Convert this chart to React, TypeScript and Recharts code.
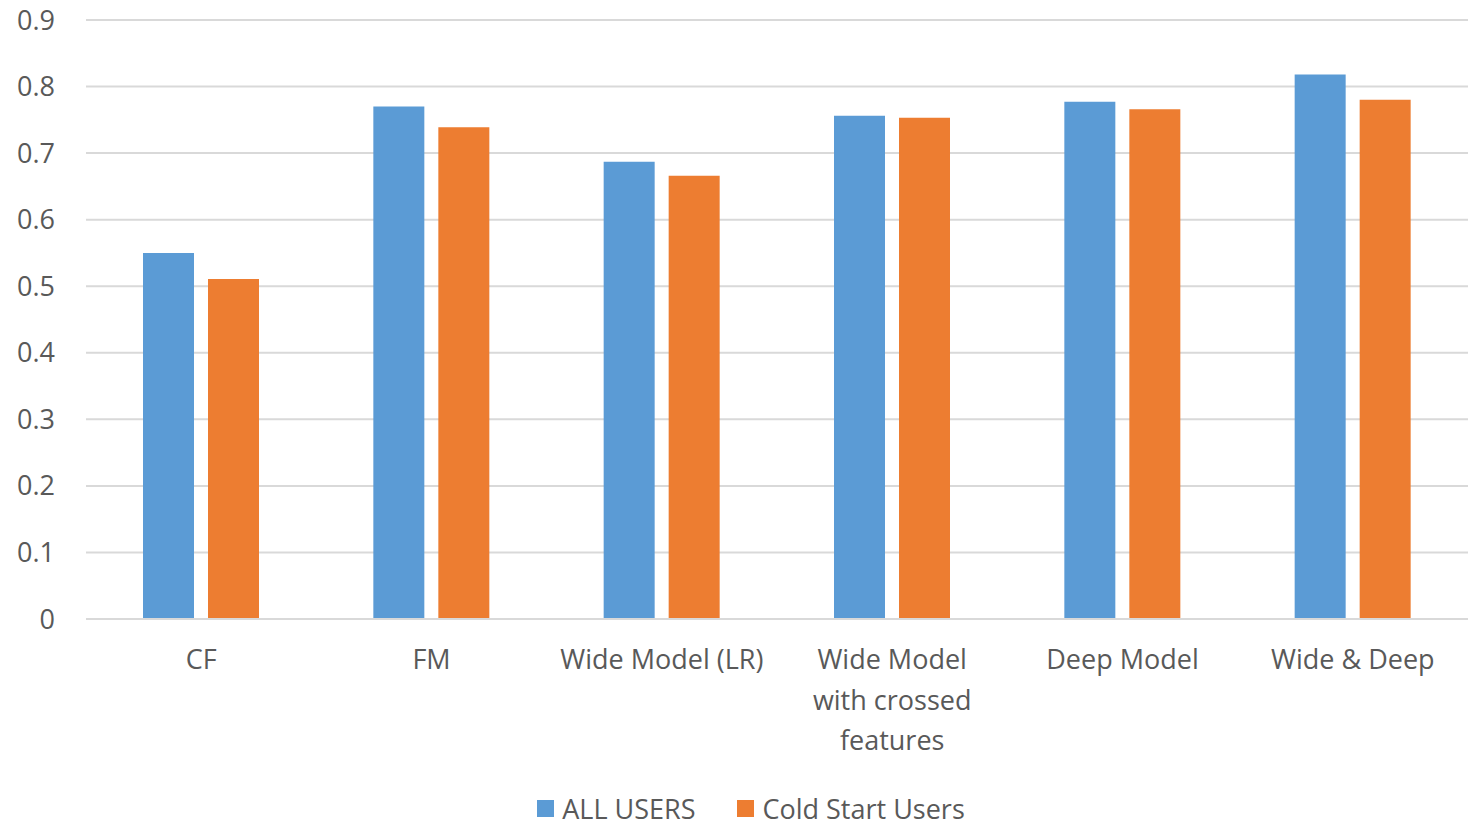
import React from "react";
import { BarChart, Bar, XAxis, YAxis, CartesianGrid, Legend } from "recharts";

// Model names on the x axis ("\n" marks a line break in the tick label)
const models = [
  "CF",
  "FM",
  "Wide Model (LR)",
  "Wide Model\nwith crossed\nfeatures",
  "Deep Model",
  "Wide & Deep",
];

const allUsers = [0.55, 0.77, 0.687, 0.756, 0.777, 0.818];
const coldStartUsers = [0.511, 0.739, 0.666, 0.753, 0.766, 0.78];

const yTicks = [0, 0.1, 0.2, 0.3, 0.4, 0.5, 0.6, 0.7, 0.8, 0.9];

const seriesNames = { all: "ALL USERS", cold: "Cold Start Users" };

const data = models.map((name, i) => ({
  name,
  all: allUsers[i],
  cold: coldStartUsers[i],
}));

const BLUE = "#5B9BD5";
const ORANGE = "#ED7D31";
const TEXT = "#595959";
const GRID = "#D9D9D9";
const FONT = "'Open Sans', 'Liberation Sans', sans-serif";
const FONT_SIZE = 27;

const CategoryTick = (props: any) => {
  const { x, y, payload } = props;
  const lines = String(payload.value).split("\n");
  return (
    <g transform={`translate(${x},${y})`}>
      {lines.map((line: string, i: number) => (
        <text
          key={i}
          x={0}
          y={42 + i * 40.5}
          textAnchor="middle"
          fill={TEXT}
          fontSize={FONT_SIZE}
          fontFamily={FONT}
        >
          {line}
        </text>
      ))}
    </g>
  );
};

const LegendContent = () => (
  <div
    style={{
      display: "flex",
      justifyContent: "center",
      alignItems: "center",
      fontFamily: FONT,
      fontSize: FONT_SIZE,
      lineHeight: "37px",
      height: 37,
      color: TEXT,
      gap: 42,
      paddingLeft: 34,
    }}
  >
    {[
      { label: seriesNames.all, color: BLUE },
      { label: seriesNames.cold, color: ORANGE },
    ].map((item) => (
      <div key={item.label} style={{ display: "flex", alignItems: "center" }}>
        <span
          style={{
            display: "inline-block",
            width: 17,
            height: 17,
            background: item.color,
            marginRight: 8,
          }}
        />
        <span>{item.label}</span>
      </div>
    ))}
  </div>
);

export default function App() {
  return (
    <div style={{ position: "absolute", left: 0, top: 0, background: "#fff" }}>
      <BarChart
        width={1468}
        height={827}
        data={data}
        margin={{ top: 20, right: 0, left: 0, bottom: 0 }}
        barGap={14}
        barSize={51}
      >
        <CartesianGrid vertical={false} stroke={GRID} strokeWidth={2} />
        <YAxis
          domain={[0, 0.9]}
          ticks={yTicks}
          width={86}
          axisLine={false}
          tickLine={false}
          tickMargin={25}
          tick={{ fill: TEXT, fontSize: FONT_SIZE, fontFamily: FONT }}
        />
        <XAxis
          dataKey="name"
          height={171}
          interval={0}
          axisLine={{ stroke: GRID, strokeWidth: 2 }}
          tickLine={false}
          tick={<CategoryTick />}
        />
        <Legend verticalAlign="bottom" content={<LegendContent />} wrapperStyle={{ bottom: 0 }} />
        <Bar dataKey="all" name={seriesNames.all} fill={BLUE} isAnimationActive={false} />
        <Bar dataKey="cold" name={seriesNames.cold} fill={ORANGE} isAnimationActive={false} />
      </BarChart>
    </div>
  );
}
